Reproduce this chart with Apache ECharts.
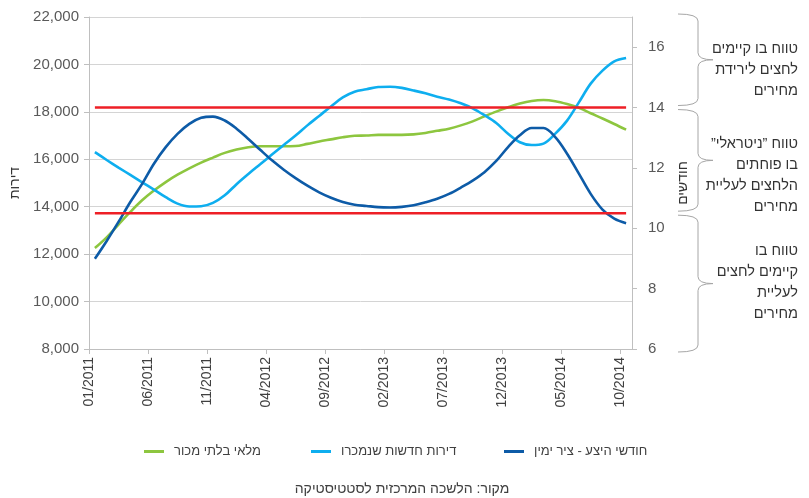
<!DOCTYPE html>
<html lang="he">
<head>
<meta charset="utf-8">
<script src="https://cdn.jsdelivr.net/npm/echarts@6/dist/echarts.min.js"></script>
<style>
  html, body { margin: 0; padding: 0; background: #fff; }
  #chart { width: 809px; height: 498px; }
</style>
</head>
<body>
<div id="chart"></div>
<script>
// Monthly observations, 01/2011 – 10/2014
const months = [
  '01/2011','02/2011','03/2011','04/2011','05/2011','06/2011','07/2011','08/2011','09/2011','10/2011','11/2011','12/2011',
  '01/2012','02/2012','03/2012','04/2012','05/2012','06/2012','07/2012','08/2012','09/2012','10/2012','11/2012','12/2012',
  '01/2013','02/2013','03/2013','04/2013','05/2013','06/2013','07/2013','08/2013','09/2013','10/2013','11/2013','12/2013',
  '01/2014','02/2014','03/2014','04/2014','05/2014','06/2014','07/2014','08/2014','09/2014','10/2014'
];

// Unsold inventory (dwellings, left axis)
const unsoldInventory = [
  12260, 12710, 13250, 13780, 14270, 14680, 15040, 15350, 15620, 15860, 16070, 16270,
  16410, 16510, 16550, 16550, 16550, 16560, 16650, 16750, 16840, 16930, 16990, 17000,
  17030, 17030, 17030, 17050, 17110, 17200, 17290, 17430, 17600, 17810, 18010, 18190,
  18350, 18460, 18500, 18450, 18330, 18170, 17940, 17720, 17490, 17250
];

// New dwellings sold (dwellings, left axis)
const newHomesSold = [
  16300, 15970, 15650, 15340, 15030, 14720, 14400, 14130, 14010, 14020, 14160, 14480,
  14950, 15380, 15790, 16200, 16600, 17000, 17430, 17830, 18230, 18610, 18850, 18950,
  19050, 19060, 19010, 18900, 18780, 18640, 18520, 18360, 18150, 17860, 17530, 17080,
  16720, 16600, 16660, 17080, 17630, 18400, 19190, 19740, 20130, 20270
];

// Months of supply (right axis)
const monthsOfSupply = [
  8.99, 9.58, 10.21, 10.87, 11.47, 12.14, 12.69, 13.13, 13.46, 13.66, 13.70, 13.57,
  13.30, 12.96, 12.60, 12.25, 11.94, 11.66, 11.41, 11.19, 11.01, 10.87, 10.78, 10.74,
  10.70, 10.69, 10.71, 10.76, 10.86, 10.98, 11.14, 11.35, 11.58, 11.86, 12.23, 12.69,
  13.08, 13.32, 13.32, 13.02, 12.47, 11.81, 11.14, 10.62, 10.32, 10.17
];

// Price-pressure thresholds on the months-of-supply axis
const pressureBounds = [14, 10.5];

// Range annotations beside the right axis: [from, to] in months, text lines
const rangeNotes = [
  { range: [14, 17],   top: 38,  lines: ['טווח בו קיימים', 'לחצים לירידת', 'מחירים'] },
  { range: [10.5, 14], top: 133, lines: ['טווח ”ניטראלי”', 'בו פוחתים', 'הלחצים לעליית', 'מחירים'] },
  { range: [6, 10.5],  top: 240, lines: ['טווח בו', 'קיימים לחצים', 'לעליית', 'מחירים'] }
];

const leftTicks = { min: 8000, max: 22000, interval: 2000 };
const rightTicks = [6, 8, 10, 12, 14, 16];
const labelStep = 5;

const NAME_INV = 'מלאי בלתי מכור';
const NAME_SOLD = 'דירות חדשות שנמכרו';
const NAME_SUPPLY = 'חודשי היצע - ציר ימין';
const SOURCE = 'מקור: הלשכה המרכזית לסטטיסטיקה';

const C_GREEN = '#8dc63f';
const C_LIGHT = '#0eaeef';
const C_DARK = '#0d5ba7';
const C_RED = '#ee1f26';
const FONT = '"Liberation Sans", Arial, sans-serif';
const RLM = '\u200F';

// each month sits in the middle of its slot on a 0..N axis
const pos = i => i + 0.5;
const toPoints = arr => arr.map((v, i) => [pos(i), v]);
const tickIdx = months.map((m, i) => i).filter(i => i % labelStep === 0);

const chart = echarts.init(document.getElementById('chart'), null, { renderer: 'canvas' });

const lineSeries = (name, data, color, yAxisIndex) => ({
  name, type: 'line', data: toPoints(data), yAxisIndex,
  smooth: 0.35, showSymbol: false, symbol: 'none',
  lineStyle: { color, width: 2.6 }, itemStyle: { color },
  emphasis: { disabled: true }
});

const boundSeries = pressureBounds.map(b => ({
  type: 'line', yAxisIndex: 1, showSymbol: false, symbol: 'none',
  data: [[pos(0), b], [pos(months.length - 1), b]],
  lineStyle: { color: C_RED, width: 2.6 }, itemStyle: { color: C_RED },
  emphasis: { disabled: true }, silent: true, z: 3
}));

const legendAt = (name, left) => ({
  data: [{ name, icon: 'rect' }],
  left, top: 445, padding: 0,
  itemWidth: 20, itemHeight: 3,
  textStyle: { fontSize: 13, color: '#404040', fontFamily: FONT, padding: [0, 0, 0, 5] },
  selectedMode: false
});

chart.setOption({
  animation: false,
  backgroundColor: '#fff',
  grid: { left: 87, right: 177, top: 17, bottom: 149, containLabel: false },
  xAxis: {
    type: 'value', min: 0, max: months.length,
    axisLine: { show: true, lineStyle: { color: '#bfbfbf', width: 1 } },
    axisTick: { show: true, length: 5, customValues: tickIdx, lineStyle: { color: '#bfbfbf' } },
    axisLabel: {
      customValues: tickIdx, formatter: v => months[v] || '',
      rotate: 90, margin: 8, fontSize: 14, color: '#404040', fontFamily: FONT
    },
    splitLine: { show: false }
  },
  yAxis: [
    {
      type: 'value', position: 'left', ...leftTicks,
      name: 'דירות', nameLocation: 'middle', nameGap: 67, nameRotate: 90,
      nameTextStyle: { fontSize: 14, color: '#333333', fontFamily: FONT },
      axisLine: { show: true, lineStyle: { color: '#bfbfbf', width: 1 } },
      axisTick: { show: true, length: 5, lineStyle: { color: '#bfbfbf' } },
      axisLabel: {
        formatter: v => v.toLocaleString('en-US'), margin: 10,
        fontSize: 15, color: '#595959', fontFamily: FONT
      },
      splitLine: { show: true, lineStyle: { color: '#d4d4d4', width: 1 } }
    },
    {
      type: 'value', position: 'right', min: 6, max: 17, interval: 2,
      name: 'חודשים', nameLocation: 'middle', nameGap: 44, nameRotate: 90,
      nameTextStyle: { fontSize: 14, color: '#333333', fontFamily: FONT },
      axisLine: { show: true, lineStyle: { color: '#bfbfbf', width: 1 } },
      axisTick: { show: true, length: 5, customValues: rightTicks, lineStyle: { color: '#bfbfbf' } },
      axisLabel: { customValues: rightTicks, margin: 16, fontSize: 15, color: '#595959', fontFamily: FONT },
      splitLine: { show: false }
    }
  ],
  legend: [
    legendAt(NAME_INV, 144),
    legendAt(NAME_SOLD, 311),
    legendAt(NAME_SUPPLY, 504)
  ],
  series: [
    lineSeries(NAME_INV, unsoldInventory, C_GREEN, 0),
    lineSeries(NAME_SOLD, newHomesSold, C_LIGHT, 0),
    lineSeries(NAME_SUPPLY, monthsOfSupply, C_DARK, 1),
    ...boundSeries
  ]
});

// Braces and notes for the three months-of-supply ranges
const yRight = v => chart.convertToPixel({ yAxisIndex: 1 }, v);
const braceStyle = { fill: null, stroke: '#a6a6a6', lineWidth: 1 };
const bx0 = 678, bx1 = 698, bx2 = 713, r = 7;
const graphics = [];
rangeNotes.forEach((note, k) => {
  let yT = yRight(note.range[1]) + 2;
  let yB = yRight(note.range[0]) - 2;
  if (k === 0) yT -= 5;
  if (k === rangeNotes.length - 1) yB += 5;
  const yM = (yT + yB) / 2;
  const curve = (x1, y1, cx, cy, x2, y2) => ({
    type: 'bezierCurve', silent: true,
    shape: { x1, y1, cpx1: cx, cpy1: cy, x2, y2 }, style: braceStyle
  });
  const seg = (y1, y2) => ({
    type: 'line', silent: true,
    shape: { x1: bx1, y1, x2: bx1, y2 }, style: braceStyle
  });
  graphics.push(
    curve(bx0, yT, bx1, yT, bx1, yT + r),
    seg(yT + r, yM - r),
    curve(bx1, yM - r, bx1, yM, bx2, yM),
    curve(bx2, yM, bx1, yM, bx1, yM + r),
    seg(yM + r, yB - r),
    curve(bx1, yB - r, bx1, yB, bx0, yB)
  );
  graphics.push({
    type: 'text', silent: true,
    style: {
      text: note.lines.map(s => RLM + s + RLM).join('\n'),
      x: 798, y: note.top, align: 'right', verticalAlign: 'top',
      lineHeight: 21, fontSize: 14.5, fontFamily: FONT, fill: '#333333'
    }
  });
});
graphics.push({
  type: 'text', silent: true,
  style: {
    text: RLM + SOURCE + RLM, x: 402, y: 489, align: 'center', verticalAlign: 'middle',
    fontSize: 14, fontFamily: FONT, fill: '#404040'
  }
});
chart.setOption({ graphic: graphics });
</script>
</body>
</html>
